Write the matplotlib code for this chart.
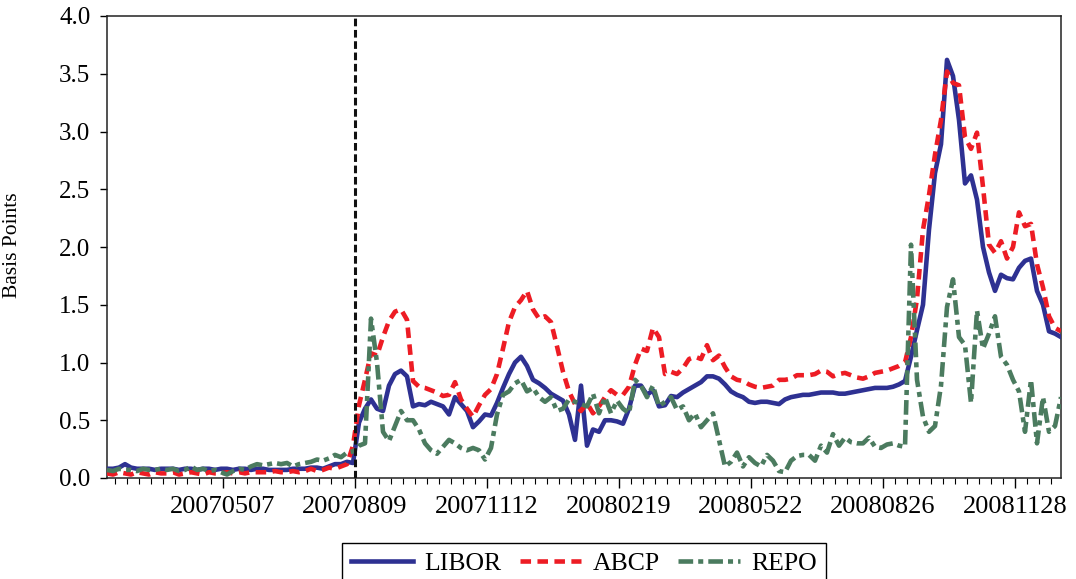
import numpy as np
import matplotlib
matplotlib.use("Agg")
import matplotlib.pyplot as plt

# observation step between stored values (business-day observations)
STEP = 3

libor = [
    0.08, 0.08, 0.09, 0.12, 0.09, 0.08, 0.08, 0.08, 0.07, 0.08,
    0.08, 0.08, 0.07, 0.08, 0.08, 0.07, 0.08, 0.08, 0.07, 0.08,
    0.08, 0.07, 0.08, 0.08, 0.07, 0.08, 0.08, 0.07, 0.07, 0.07,
    0.07, 0.08, 0.08, 0.08, 0.09, 0.09, 0.08, 0.10, 0.12, 0.12,
    0.14, 0.13, 0.48, 0.60, 0.68, 0.60, 0.58, 0.80, 0.90, 0.93,
    0.88, 0.62, 0.64, 0.63, 0.66, 0.64, 0.62, 0.55, 0.70, 0.64,
    0.58, 0.44, 0.49, 0.55, 0.54, 0.65, 0.78, 0.90, 1.00, 1.05,
    0.97, 0.85, 0.82, 0.78, 0.73, 0.70, 0.67, 0.55, 0.33, 0.80,
    0.28, 0.42, 0.40, 0.50, 0.50, 0.49, 0.47, 0.60, 0.80, 0.80,
    0.72, 0.76, 0.62, 0.63, 0.71, 0.70, 0.74, 0.77, 0.80, 0.83,
    0.88, 0.88, 0.86, 0.81, 0.75, 0.72, 0.70, 0.66, 0.65, 0.66,
    0.66, 0.65, 0.64, 0.68, 0.70, 0.71, 0.72, 0.72, 0.73, 0.74,
    0.74, 0.74, 0.73, 0.73, 0.74, 0.75, 0.76, 0.77, 0.78, 0.78,
    0.78, 0.79, 0.81, 0.84, 1.05, 1.28, 1.50, 2.15, 2.64, 2.89,
    3.62, 3.48, 3.10, 2.55, 2.62, 2.41, 2.00, 1.78, 1.62, 1.76,
    1.73, 1.72, 1.82, 1.88, 1.90, 1.62, 1.50, 1.27, 1.25, 1.22,
]

abcp = [
    0.04, 0.03, 0.05, 0.04, 0.03, 0.05, 0.04, 0.03, 0.05, 0.04,
    0.04, 0.05, 0.03, 0.04, 0.05, 0.04, 0.03, 0.05, 0.04, 0.04,
    0.05, 0.04, 0.05, 0.04, 0.05, 0.05, 0.05, 0.05, 0.06, 0.05,
    0.05, 0.06, 0.05, 0.06, 0.08, 0.06, 0.07, 0.09, 0.08, 0.10,
    0.12, 0.28, 0.63, 0.85, 1.08, 1.06, 1.22, 1.36, 1.44, 1.46,
    1.37, 0.84, 0.79, 0.78, 0.76, 0.74, 0.71, 0.72, 0.83, 0.68,
    0.60, 0.53, 0.63, 0.72, 0.77, 0.90, 1.12, 1.35, 1.48, 1.54,
    1.62, 1.46, 1.38, 1.40, 1.35, 1.14, 0.92, 0.75, 0.64, 0.58,
    0.65, 0.56, 0.62, 0.70, 0.76, 0.72, 0.72, 0.79, 0.98, 1.12,
    1.10, 1.30, 1.22, 0.90, 0.92, 0.90, 0.95, 1.03, 1.05, 1.03,
    1.15, 1.02, 1.06, 0.96, 0.88, 0.85, 0.84, 0.81, 0.79, 0.78,
    0.79, 0.80, 0.85, 0.85, 0.86, 0.89, 0.89, 0.89, 0.90, 0.93,
    0.92, 0.88, 0.90, 0.91, 0.89, 0.87, 0.86, 0.88, 0.91, 0.92,
    0.93, 0.95, 0.97, 1.00, 1.22, 1.55, 2.15, 2.45, 2.80, 3.10,
    3.52, 3.42, 3.40, 2.95, 2.85, 2.99, 2.52, 2.02, 1.95, 2.05,
    1.90, 2.00, 2.30, 2.18, 2.20, 1.85, 1.65, 1.40, 1.30, 1.27,
]

repo = [
    0.07, 0.06, 0.08, 0.07, 0.07, 0.06, 0.08, 0.07, 0.07, 0.08,
    0.07, 0.08, 0.06, 0.07, 0.10, 0.07, 0.08, 0.06, 0.07, 0.05,
    0.03, 0.06, 0.08, 0.07, 0.10, 0.12, 0.11, 0.12, 0.13, 0.12,
    0.13, 0.10, 0.12, 0.13, 0.14, 0.16, 0.15, 0.17, 0.20, 0.18,
    0.22, 0.23, 0.28, 0.30, 1.38, 1.00, 0.40, 0.32, 0.45, 0.58,
    0.50, 0.50, 0.42, 0.30, 0.24, 0.21, 0.27, 0.33, 0.30, 0.26,
    0.24, 0.26, 0.24, 0.16, 0.26, 0.55, 0.72, 0.75, 0.82, 0.85,
    0.75, 0.78, 0.70, 0.66, 0.70, 0.58, 0.60, 0.68, 0.66, 0.64,
    0.62, 0.73, 0.56, 0.70, 0.56, 0.67, 0.60, 0.56, 0.85, 0.80,
    0.70, 0.80, 0.62, 0.66, 0.70, 0.59, 0.62, 0.50, 0.56, 0.44,
    0.50, 0.56, 0.33, 0.10, 0.14, 0.22, 0.10, 0.18, 0.13, 0.10,
    0.20, 0.15, 0.06, 0.05, 0.15, 0.19, 0.20, 0.20, 0.15, 0.28,
    0.22, 0.38, 0.28, 0.35, 0.31, 0.30, 0.30, 0.35, 0.27, 0.26,
    0.29, 0.30, 0.28, 0.27, 2.02, 0.85, 0.53, 0.40, 0.45, 0.80,
    1.48, 1.72, 1.22, 1.15, 0.65, 1.45, 1.12, 1.25, 1.40, 1.05,
    0.98, 0.85, 0.75, 0.40, 0.85, 0.30, 0.70, 0.40, 0.45, 0.70,
]

tick_labels = ["20070507", "20070809", "20071112", "20080219",
               "20080522", "20080826", "20081128"]
first_tick_obs = 58
tick_every = 66
minor_every = 6
event_obs = 124  # 20070809

n_obs = (len(libor) - 1) * STEP
x = np.arange(len(libor)) * STEP

plt.rcParams['font.family'] = ['Liberation Serif', 'DejaVu Serif']

fig = plt.figure(figsize=(10.76, 5.79), dpi=100)
ax = fig.add_axes([107/1076, 101/579, 954/1076, 462/579])

lw = 3.3
ax.plot(x, libor, color="#2e3192", lw=lw, label="LIBOR", zorder=3)
ax.plot(x, abcp, color="#ed1c24", lw=lw, dashes=(2.3, 1.4), label="ABCP", zorder=4)
ax.plot(x, repo, color="#4b7b5f", lw=lw, dashes=(3.2, 1.1, 1.1, 1.1), label="REPO", zorder=5)

ax.axvline(event_obs, color="#111111", lw=2.2, dashes=(2.5, 1.2), zorder=6)

ax.set_xlim(0, n_obs)
ax.set_ylim(0, 4.0)
yt = np.arange(0, 4.01, 0.5)
ax.set_yticks(yt)
ax.set_yticklabels([f"{v:.1f}" for v in yt])

major = [first_tick_obs + i * tick_every for i in range(len(tick_labels))]
ax.set_xticks(major)
ax.set_xticklabels(tick_labels)
minor = [m for m in range(first_tick_obs % minor_every, n_obs + 1, minor_every) if m not in major]
ax.set_xticks(minor, minor=True)

ax.tick_params(axis="x", which="major", direction="out", length=7, width=1.0,
               labelsize=19, pad=6)
ax.tick_params(axis="x", which="minor", direction="out", length=4, width=0.8)
ax.tick_params(axis="y", which="major", direction="out", length=5, width=1.0,
               labelsize=18, pad=7)
for s in ax.spines.values():
    s.set_linewidth(1.1)
    s.set_color("#222222")

ax.set_ylabel("Basis Points", fontsize=15.5)
ax.yaxis.set_label_coords(-0.089, 0.504)

leg = fig.legend(loc="upper center", bbox_to_anchor=(584/1076, 36/579), ncol=3,
                 frameon=True, fancybox=False, fontsize=18.5, handlelength=2.4,
                 handletextpad=0.45, columnspacing=0.7, borderpad=0.35,
                 borderaxespad=0.0, edgecolor="black", framealpha=1)
leg.get_frame().set_linewidth(1.0)

fig.savefig("out.png", dpi=100)
